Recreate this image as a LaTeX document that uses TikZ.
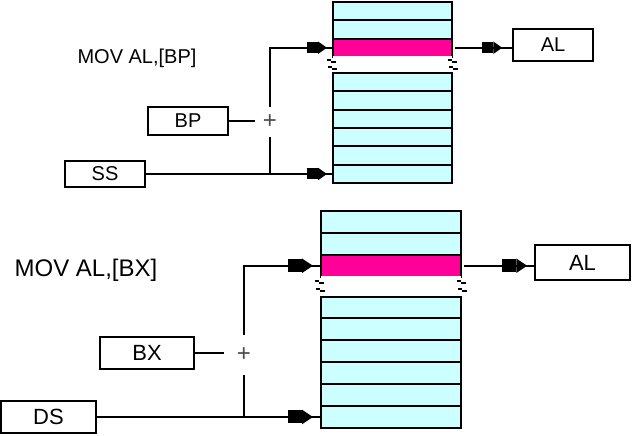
\documentclass[tikz,border=0pt]{standalone}
\usepackage{fontspec}
\setmainfont{Liberation Sans}
\usetikzlibrary{matrix,positioning,calc,arrows.meta}
\definecolor{memcyan}{RGB}{204,255,255}
\definecolor{memmagenta}{RGB}{255,0,153}
\tikzset{
memory/.style={
  matrix of nodes,
  row sep=-\pgflinewidth,
  line width=2pt,
  nodes={draw, rectangle, fill=memcyan, inner sep=0pt},
  nodes in empty cells
},
row 3/.style={nodes={fill=memmagenta}},
row 4/.style={nodes={fill=white,draw=none}},
reg/.style={draw, rectangle, line width=1.5pt, inner sep=0pt},
adder/.style={circle, inner sep=0pt, text=gray!60!black, font=\fontsize{24}{24}\selectfont},
wire/.style={line width=2pt},
plug/.style={postaction={draw, shorten >=#1,
  -{Square[length=11pt,width=11pt]Triangle[length=9pt,width=12pt]}}},
bigplug/.style={postaction={draw, shorten >=#1,
  -{Square[length=14pt,width=13pt]Triangle[length=11pt,width=14pt]}}},
breakmark/.style={line width=1.8pt},
}

\begin{document}
\begin{tikzpicture}[x=1pt,y=1pt]
    \useasboundingbox (0,0) rectangle (632,436);
    % upper picture: MOV AL,[BP]
    \matrix (m1) [memory, nodes={minimum width=119pt, minimum height=18.3pt}] at (392.5,343.5) {
        \\ \\ \\ \\ \\ \\ \\ \\ \\ \\
    };
    \node (t1) at (137,378) {\fontsize{20}{20}\selectfont MOV AL,[BP]};
    \node[reg, minimum width=80pt, minimum height=28pt, font=\fontsize{20}{20}\selectfont] (bp) at (188,315) {BP};
    \node[reg, minimum width=80pt, minimum height=26pt, font=\fontsize{20}{20}\selectfont] (ss) at (105,262) {SS};
    \node[reg, minimum width=80pt, minimum height=32pt, font=\fontsize{20}{20}\selectfont] (al1) at (553,391) {AL};
    \node[adder, minimum size=30pt] (sum1) at (270,314) {+};
    \draw[wire] (bp.east) -- (bp.east -| sum1.west);
    \draw[wire, plug=5pt] (sum1.north) |- (m1-3-1.west);
    \draw[wire] (sum1.south) -- (sum1 |- ss.east);
    \draw[wire, plug=5pt] (ss.east) -- (ss.east -| m1-10-1.west);
    \draw[wire, plug=10pt] ([xshift=2pt]m1-3-1.east) -- (m1-3-1.east -| al1.west);
    \foreach \side in {west,east} {
        \draw[breakmark] ($(m1-4-1.\side)+(-5,5)$) -- ++(4,0) ++(0,-2) -- ++(5,0);
        \draw[breakmark] ($(m1-4-1.\side)+(-4,-2)$) -- ++(4,0) ++(0,-2) -- ++(5,0);
    }
    % lower picture: MOV AL,[BX]
    \matrix (m2) [memory, nodes={minimum width=140pt, minimum height=21.9pt}] at (391,116.5) {
        \\ \\ \\ \\ \\ \\ \\ \\ \\ \\
    };
    \node (t2) at (86,166) {\fontsize{24}{24}\selectfont MOV AL,[BX]};
    \node[reg, minimum width=94pt, minimum height=32pt, font=\fontsize{22}{22}\selectfont] (bx) at (147,83) {BX};
    \node[reg, minimum width=95pt, minimum height=32pt, font=\fontsize{22}{22}\selectfont] (ds) at (48.5,19) {DS};
    \node[reg, minimum width=95pt, minimum height=35pt, font=\fontsize{22}{22}\selectfont] (al2) at (582.5,173.5) {AL};
    \node[adder, minimum size=40pt] (sum2) at (244,81) {+};
    \draw[wire] (bx.east) -- (bx.east -| sum2.west);
    \draw[wire, bigplug=7pt] (sum2.north) |- (m2-3-1.west);
    \draw[wire] (sum2.south) -- (sum2 |- ds.east);
    \draw[wire, bigplug=7pt] (ds.east) -- (ds.east -| m2-10-1.west);
    \draw[wire, bigplug=7pt] ([xshift=2pt]m2-3-1.east) -- (m2-3-1.east -| al2.west);
    \foreach \side in {west,east} {
        \draw[breakmark] ($(m2-4-1.\side)+(-5,6)$) -- ++(4,0) ++(0,-2.5) -- ++(5,0);
        \draw[breakmark] ($(m2-4-1.\side)+(-4,-2)$) -- ++(4,0) ++(0,-2.5) -- ++(5,0);
    }
\end{tikzpicture}
\end{document}
